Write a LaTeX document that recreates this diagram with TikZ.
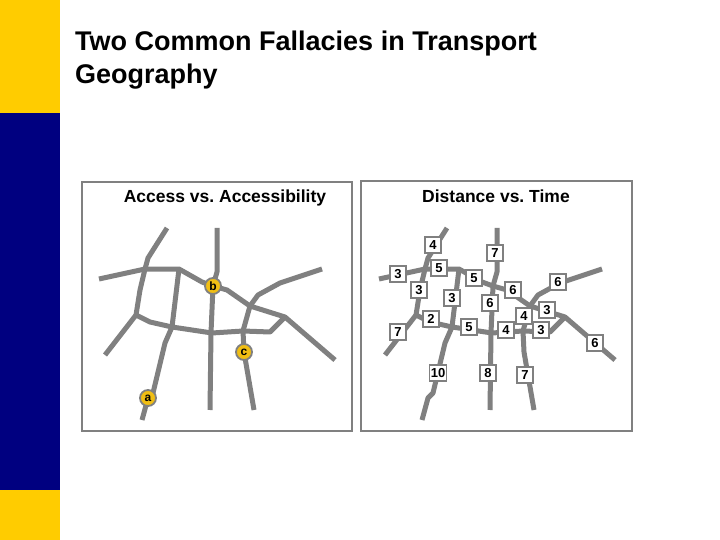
\documentclass[tikz,border=0pt]{standalone}
\usepackage{fontspec}
\setmainfont{Liberation Sans}
\frenchspacing
\definecolor{gold}{RGB}{255,204,0}
\definecolor{navy}{RGB}{0,0,128}
\definecolor{roadgray}{RGB}{128,128,128}
\definecolor{dotyel}{RGB}{240,190,20}
\begin{document}
\begin{tikzpicture}[x=1pt,y=-1pt,
 road/.style={draw=roadgray,line width=5pt,line join=round,line cap=butt},
 pt/.style={circle,fill=dotyel,draw=roadgray,line width=1.8pt,inner sep=0pt,minimum size=16pt,font=\bfseries\fontsize{12}{12}\selectfont},
 lab/.style={fill=white,draw=roadgray,line width=1.5pt,inner sep=1.5pt,minimum width=16pt,minimum height=16pt,font=\bfseries\fontsize{13}{13}\selectfont},
 panel/.style={draw=gray,line width=1.2pt}]
\useasboundingbox (0,0) rectangle (720,540);
\fill[white] (0,0) rectangle (720,540);
\fill[gold] (0,0) rectangle (60,113);
\fill[navy] (0,113) rectangle (60,490);
\fill[gold] (0,490) rectangle (60,540);
\node[anchor=base west,font=\bfseries\fontsize{27}{27}\selectfont,inner sep=0pt] (title1) at (75,51) {Two Common Fallacies in Transport};
\node[anchor=base west,font=\bfseries\fontsize{27}{27}\selectfont,inner sep=0pt] (title2) at (75,84) {Geography};
\draw[panel] (82,182) rectangle (352,431);
\draw[panel] (361,181) rectangle (632,431);
\node[font=\bfseries\fontsize{17.5}{17.5}\selectfont] (t1) at (225,198) {Access vs. Accessibility};
\node[font=\bfseries\fontsize{17.5}{17.5}\selectfont] (t2) at (496,196) {Distance vs. Time};
\foreach \dx in {0,280}{
\begin{scope}[xshift=\dx]
\draw[road] (167,228)--(148,258)--(145,269)--(140,290)--(136,315)--(105,355);
\draw[road] (99,279)--(145,269)--(179,269)--(202,282)--(213,286);
\draw[road] (217,228)--(217,272)--(213,286)--(211,333)--(210,410);
\draw[road] (179,269)--(172,327)--(165,343)--(153,393)--(148,398)--(142,420);
\draw[road] (136,315)--(150,322)--(172,327)--(212,333)--(243,331)--(270,332)--(285,317);
\draw[road] (213,286)--(227,290)--(250,306)--(285,317)--(335,360);
\draw[road] (250,306)--(258,295)--(280,283)--(322,269);
\draw[road] (250,306)--(243,331)--(244,352)--(254,410);
\end{scope}}
\node[pt] (a) at (148,398) {a};
\node[pt] (b) at (213,286) {b};
\node[pt] (c) at (244,352) {c};
\foreach \n/\x/\y/\t in {l1/433/245/4,l2/495/253/7,l3/398/274/3,l4/439/268/5,l5/474/278/5,l6/513/290/6,l7/558/282/6,l8/419/290/3,l9/452/298/3,l10/490/303/6,l11/524/316/4,l12/547/310/3,l13/431/319/2,l14/469/327/5,l15/506/330/4,l16/541/330/3,l17/398/332/7,l18/595/343/6,l19/438/373/10,l20/488/373/8,l21/525/375/7}
  \node[lab] (\n) at (\x,\y) {\t};
\end{tikzpicture}
\end{document}
